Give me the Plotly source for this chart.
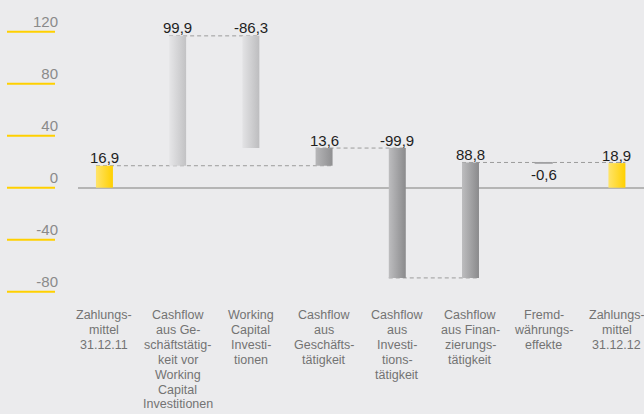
import plotly.graph_objects as go

# Cash flow bridge 2012 (values in EUR m)
categories = [
    "Zahlungs-|mittel|31.12.11",
    "Cashflow|aus Ge-|schäftstätig-|keit vor|Working|Capital|Investitionen",
    "Working|Capital|Investi-|tionen",
    "Cashflow|aus|Geschäfts-|tätigkeit",
    "Cashflow|aus|Investi-|tions-|tätigkeit",
    "Cashflow|aus Finan-|zierungs-|tätigkeit",
    "Fremd-|währungs-|effekte",
    "Zahlungs-|mittel|31.12.12",
]
values = [16.9, 99.9, -86.3, 13.6, -99.9, 88.8, -0.6, 18.9]
kinds = ["total", "delta", "delta", "subtotal", "delta", "delta", "delta", "total"]
y_ticks = [-80, -40, 0, 40, 80, 120]

# bar pairs joined by a dashed connector at the end level of the first bar
connectors = [(0, 3), (1, 2), (3, 4), (4, 5), (5, 7)]

# horizontal gradient (left colour, right colour) for each bar
YELLOW = ("#ffe46a", "#ffd000")
bar_gradients = [
    YELLOW,
    ("#e6e6e8", "#c2c2c4"),
    ("#e3e3e5", "#bdbdbf"),
    ("#b6b6b8", "#8f8f91"),
    ("#bdbdbf", "#8a8a8c"),
    ("#bdbdbf", "#8a8a8c"),
    ("#ababad", "#a0a0a2"),
    YELLOW,
]

FONT = "Liberation Sans, Arial, Helvetica, sans-serif"
BG = "#ebebed"
W, H = 644, 414
PLOT_LEFT = 78      # px where the plotting area starts
BOTTOM = 96         # bottom margin in px
BAR_W = 0.232


def fmt(v):
    return f"{v:.1f}".replace(".", ",")


# waterfall geometry from the values
bases, ends = [], []
level = 0.0
last_total = 0.0
for v, k in zip(values, kinds):
    if k == "total":
        b, e = 0.0, v
        last_total = v
    elif k == "subtotal":
        b, e = last_total, last_total + v
    else:
        b, e = level, level + v
    bases.append(b)
    ends.append(e)
    level = e

fig = go.Figure()

# dashed connectors (behind the bars)
for i, j in connectors:
    lvl = ends[i]
    fig.add_trace(go.Scatter(
        x=[i - BAR_W / 2, j + BAR_W / 2], y=[lvl, lvl], mode="lines",
        line=dict(color="#9c9c9c", width=1, dash="4px,3px"),
        hoverinfo="skip", showlegend=False,
    ))

# bars as filled rectangles with a horizontal gradient
for i, (b, e) in enumerate(zip(bases, ends)):
    x0, x1 = i - BAR_W / 2, i + BAR_W / 2
    left, right = bar_gradients[i]
    thin = abs(values[i]) < 1
    fig.add_trace(go.Scatter(
        x=[x0, x1, x1, x0, x0], y=[b, b, e, e, b],
        mode="lines", fill="toself",
        fillgradient=dict(type="horizontal", colorscale=[[0, left], [1, right]]),
        line=dict(width=1.2 if thin else 0, color=right),
        hoverinfo="skip", showlegend=False,
    ))

annotations = []

# value labels
for i, (v, b, e) in enumerate(zip(values, bases, ends)):
    below = abs(v) < 1
    annotations.append(dict(
        x=i, y=min(b, e) if below else max(b, e), xref="x", yref="y",
        text=fmt(v), showarrow=False, yanchor="middle",
        yshift=-11 if below else 8,
        font=dict(family=FONT, size=15, color="#1e1e1e"),
    ))

# category labels, one annotation per line
LINE_H = 14.9
for i, cat in enumerate(categories):
    for k, line in enumerate(cat.split("|")):
        annotations.append(dict(
            x=i, y=0, xref="x", yref="paper", text=line, showarrow=False,
            yanchor="middle", yshift=3 - k * LINE_H,
            font=dict(family=FONT, size=12.5, color="#737373"),
        ))

# yellow tick rules on the left
shapes = [
    dict(type="line", xref="paper", yref="y", x0=7 / W, x1=55 / W, y0=t, y1=t,
         line=dict(color="#ffd000", width=2))
    for t in y_ticks
]

plot_h = H - BOTTOM
px_per_unit = 1.30
zero_px = 187.7
y_top = zero_px / px_per_unit
y_bot = -(plot_h - zero_px) / px_per_unit

fig.update_layout(
    width=W, height=H,
    margin=dict(l=0, r=0, t=0, b=BOTTOM),
    paper_bgcolor=BG, plot_bgcolor=BG,
    showlegend=False,
    xaxis=dict(
        domain=[PLOT_LEFT / W, 1], range=[-0.361, 7.37],
        showgrid=False, zeroline=False, showticklabels=False, ticks="",
        fixedrange=True,
    ),
    yaxis=dict(
        anchor="free", position=58 / W, range=[y_bot, y_top],
        tickvals=y_ticks, ticktext=[str(t) for t in y_ticks],
        ticks="", showgrid=False, showline=False,
        zeroline=True, zerolinecolor="#b5b5b5", zerolinewidth=2.3,
        ticklabelshift=-10,
        tickfont=dict(family=FONT, size=15, color="#8a8a8a"),
        fixedrange=True,
    ),
    annotations=annotations,
    shapes=shapes,
)

fig.write_html("out.html")
